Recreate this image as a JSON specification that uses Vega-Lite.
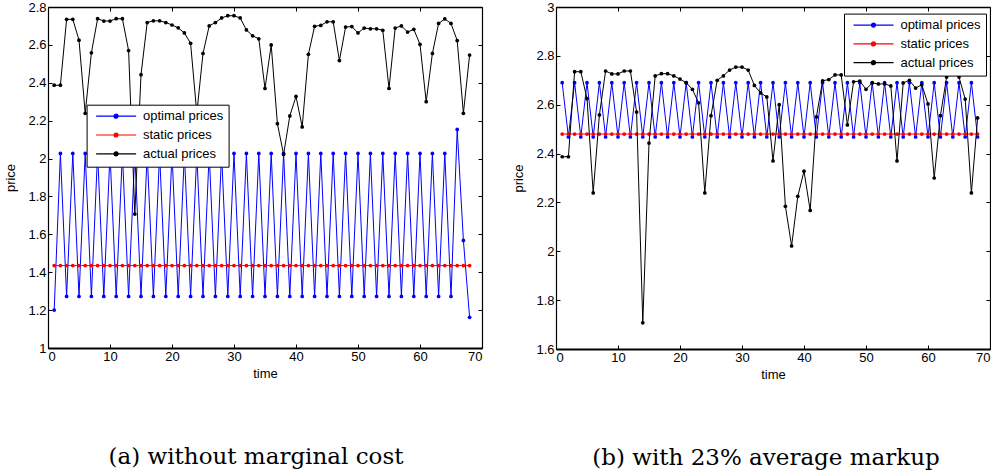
{
  "$schema": "https://vega.github.io/schema/vega-lite/v6.json",
  "padding": {"left": 4, "top": 1, "right": 0, "bottom": 0},
  "config": {"view": {"stroke": null}, "font": "Liberation Sans"},
  "datasets": {
    "A": [
      {"t":1,"optimal":1.2,"static":1.435,"actual":2.387},
      {"t":2,"optimal":2.027,"static":1.435,"actual":2.387},
      {"t":3,"optimal":1.272,"static":1.435,"actual":2.735},
      {"t":4,"optimal":2.027,"static":1.435,"actual":2.735},
      {"t":5,"optimal":1.272,"static":1.435,"actual":2.625},
      {"t":6,"optimal":2.027,"static":1.435,"actual":2.239},
      {"t":7,"optimal":1.272,"static":1.435,"actual":2.558},
      {"t":8,"optimal":2.027,"static":1.435,"actual":2.738},
      {"t":9,"optimal":1.272,"static":1.435,"actual":2.726},
      {"t":10,"optimal":2.027,"static":1.435,"actual":2.726},
      {"t":11,"optimal":1.272,"static":1.435,"actual":2.738},
      {"t":12,"optimal":2.027,"static":1.435,"actual":2.738},
      {"t":13,"optimal":1.272,"static":1.435,"actual":2.570},
      {"t":14,"optimal":2.027,"static":1.435,"actual":1.707},
      {"t":15,"optimal":1.272,"static":1.435,"actual":2.443},
      {"t":16,"optimal":2.027,"static":1.435,"actual":2.718},
      {"t":17,"optimal":1.272,"static":1.435,"actual":2.727},
      {"t":18,"optimal":2.027,"static":1.435,"actual":2.727},
      {"t":19,"optimal":1.272,"static":1.435,"actual":2.718},
      {"t":20,"optimal":2.027,"static":1.435,"actual":2.705},
      {"t":21,"optimal":1.272,"static":1.435,"actual":2.690},
      {"t":22,"optimal":2.027,"static":1.435,"actual":2.663},
      {"t":23,"optimal":1.272,"static":1.435,"actual":2.608},
      {"t":24,"optimal":2.027,"static":1.435,"actual":2.239},
      {"t":25,"optimal":1.272,"static":1.435,"actual":2.555},
      {"t":26,"optimal":2.027,"static":1.435,"actual":2.700},
      {"t":27,"optimal":1.272,"static":1.435,"actual":2.718},
      {"t":28,"optimal":2.027,"static":1.435,"actual":2.742},
      {"t":29,"optimal":1.272,"static":1.435,"actual":2.754},
      {"t":30,"optimal":2.027,"static":1.435,"actual":2.754},
      {"t":31,"optimal":1.272,"static":1.435,"actual":2.742},
      {"t":32,"optimal":2.027,"static":1.435,"actual":2.679},
      {"t":33,"optimal":1.272,"static":1.435,"actual":2.648},
      {"t":34,"optimal":2.027,"static":1.435,"actual":2.632},
      {"t":35,"optimal":1.272,"static":1.435,"actual":2.370},
      {"t":36,"optimal":2.027,"static":1.435,"actual":2.600},
      {"t":37,"optimal":1.272,"static":1.435,"actual":2.184},
      {"t":38,"optimal":2.027,"static":1.435,"actual":2.022},
      {"t":39,"optimal":1.272,"static":1.435,"actual":2.225},
      {"t":40,"optimal":2.027,"static":1.435,"actual":2.328},
      {"t":41,"optimal":1.272,"static":1.435,"actual":2.167},
      {"t":42,"optimal":2.027,"static":1.435,"actual":2.550},
      {"t":43,"optimal":1.272,"static":1.435,"actual":2.698},
      {"t":44,"optimal":2.027,"static":1.435,"actual":2.703},
      {"t":45,"optimal":1.272,"static":1.435,"actual":2.722},
      {"t":46,"optimal":2.027,"static":1.435,"actual":2.722},
      {"t":47,"optimal":1.272,"static":1.435,"actual":2.517},
      {"t":48,"optimal":2.027,"static":1.435,"actual":2.694},
      {"t":49,"optimal":1.272,"static":1.435,"actual":2.697},
      {"t":50,"optimal":2.027,"static":1.435,"actual":2.663},
      {"t":51,"optimal":1.272,"static":1.435,"actual":2.689},
      {"t":52,"optimal":2.027,"static":1.435,"actual":2.685},
      {"t":53,"optimal":1.272,"static":1.435,"actual":2.685},
      {"t":54,"optimal":2.027,"static":1.435,"actual":2.677},
      {"t":55,"optimal":1.272,"static":1.435,"actual":2.370},
      {"t":56,"optimal":2.027,"static":1.435,"actual":2.689},
      {"t":57,"optimal":1.272,"static":1.435,"actual":2.700},
      {"t":58,"optimal":2.027,"static":1.435,"actual":2.668},
      {"t":59,"optimal":1.272,"static":1.435,"actual":2.682},
      {"t":60,"optimal":2.027,"static":1.435,"actual":2.603},
      {"t":61,"optimal":1.272,"static":1.435,"actual":2.300},
      {"t":62,"optimal":2.027,"static":1.435,"actual":2.555},
      {"t":63,"optimal":1.272,"static":1.435,"actual":2.713},
      {"t":64,"optimal":2.027,"static":1.435,"actual":2.737},
      {"t":65,"optimal":1.272,"static":1.435,"actual":2.713},
      {"t":66,"optimal":2.154,"static":1.435,"actual":2.623},
      {"t":67,"optimal":1.568,"static":1.435,"actual":2.239},
      {"t":68,"optimal":1.162,"static":1.435,"actual":2.546}
    ],
    "B": [
      {"t":1,"optimal":2.69,"static":2.48,"actual":2.387},
      {"t":2,"optimal":2.468,"static":2.48,"actual":2.387},
      {"t":3,"optimal":2.69,"static":2.48,"actual":2.735},
      {"t":4,"optimal":2.468,"static":2.48,"actual":2.735},
      {"t":5,"optimal":2.69,"static":2.48,"actual":2.625},
      {"t":6,"optimal":2.468,"static":2.48,"actual":2.239},
      {"t":7,"optimal":2.69,"static":2.48,"actual":2.558},
      {"t":8,"optimal":2.468,"static":2.48,"actual":2.738},
      {"t":9,"optimal":2.69,"static":2.48,"actual":2.726},
      {"t":10,"optimal":2.468,"static":2.48,"actual":2.726},
      {"t":11,"optimal":2.69,"static":2.48,"actual":2.738},
      {"t":12,"optimal":2.468,"static":2.48,"actual":2.738},
      {"t":13,"optimal":2.69,"static":2.48,"actual":2.570},
      {"t":14,"optimal":2.468,"static":2.48,"actual":1.707},
      {"t":15,"optimal":2.69,"static":2.48,"actual":2.443},
      {"t":16,"optimal":2.468,"static":2.48,"actual":2.718},
      {"t":17,"optimal":2.69,"static":2.48,"actual":2.727},
      {"t":18,"optimal":2.468,"static":2.48,"actual":2.727},
      {"t":19,"optimal":2.69,"static":2.48,"actual":2.718},
      {"t":20,"optimal":2.468,"static":2.48,"actual":2.705},
      {"t":21,"optimal":2.69,"static":2.48,"actual":2.690},
      {"t":22,"optimal":2.468,"static":2.48,"actual":2.663},
      {"t":23,"optimal":2.69,"static":2.48,"actual":2.608},
      {"t":24,"optimal":2.468,"static":2.48,"actual":2.239},
      {"t":25,"optimal":2.69,"static":2.48,"actual":2.555},
      {"t":26,"optimal":2.468,"static":2.48,"actual":2.700},
      {"t":27,"optimal":2.69,"static":2.48,"actual":2.718},
      {"t":28,"optimal":2.468,"static":2.48,"actual":2.742},
      {"t":29,"optimal":2.69,"static":2.48,"actual":2.754},
      {"t":30,"optimal":2.468,"static":2.48,"actual":2.754},
      {"t":31,"optimal":2.69,"static":2.48,"actual":2.742},
      {"t":32,"optimal":2.468,"static":2.48,"actual":2.679},
      {"t":33,"optimal":2.69,"static":2.48,"actual":2.648},
      {"t":34,"optimal":2.468,"static":2.48,"actual":2.632},
      {"t":35,"optimal":2.69,"static":2.48,"actual":2.370},
      {"t":36,"optimal":2.468,"static":2.48,"actual":2.600},
      {"t":37,"optimal":2.69,"static":2.48,"actual":2.184},
      {"t":38,"optimal":2.468,"static":2.48,"actual":2.022},
      {"t":39,"optimal":2.69,"static":2.48,"actual":2.225},
      {"t":40,"optimal":2.468,"static":2.48,"actual":2.328},
      {"t":41,"optimal":2.69,"static":2.48,"actual":2.167},
      {"t":42,"optimal":2.468,"static":2.48,"actual":2.550},
      {"t":43,"optimal":2.69,"static":2.48,"actual":2.698},
      {"t":44,"optimal":2.468,"static":2.48,"actual":2.703},
      {"t":45,"optimal":2.69,"static":2.48,"actual":2.722},
      {"t":46,"optimal":2.468,"static":2.48,"actual":2.722},
      {"t":47,"optimal":2.69,"static":2.48,"actual":2.517},
      {"t":48,"optimal":2.468,"static":2.48,"actual":2.694},
      {"t":49,"optimal":2.69,"static":2.48,"actual":2.697},
      {"t":50,"optimal":2.468,"static":2.48,"actual":2.663},
      {"t":51,"optimal":2.69,"static":2.48,"actual":2.689},
      {"t":52,"optimal":2.468,"static":2.48,"actual":2.685},
      {"t":53,"optimal":2.69,"static":2.48,"actual":2.685},
      {"t":54,"optimal":2.468,"static":2.48,"actual":2.677},
      {"t":55,"optimal":2.69,"static":2.48,"actual":2.370},
      {"t":56,"optimal":2.468,"static":2.48,"actual":2.689},
      {"t":57,"optimal":2.69,"static":2.48,"actual":2.700},
      {"t":58,"optimal":2.468,"static":2.48,"actual":2.668},
      {"t":59,"optimal":2.69,"static":2.48,"actual":2.682},
      {"t":60,"optimal":2.468,"static":2.48,"actual":2.603},
      {"t":61,"optimal":2.69,"static":2.48,"actual":2.300},
      {"t":62,"optimal":2.468,"static":2.48,"actual":2.555},
      {"t":63,"optimal":2.69,"static":2.48,"actual":2.713},
      {"t":64,"optimal":2.468,"static":2.48,"actual":2.737},
      {"t":65,"optimal":2.69,"static":2.48,"actual":2.713},
      {"t":66,"optimal":2.468,"static":2.48,"actual":2.623},
      {"t":67,"optimal":2.69,"static":2.48,"actual":2.239},
      {"t":68,"optimal":2.468,"static":2.48,"actual":2.546}
    ]
  },
  "hconcat": [
    {
      "width": 434,
      "height": 341,
      "data": {"name": "A"},
      "title": {"text": "(a) without marginal cost", "orient": "bottom", "frame": "group", "anchor": "middle", "dx": -9, "offset": 84, "baseline": "alphabetic", "font": "DejaVu Serif", "fontSize": 23, "fontWeight": "normal", "color": "black"},
      "resolve": {"axis": {"x": "independent", "y": "independent"}},
      "layer": [
        {
          "transform": [{"fold": ["optimal", "static"], "as": ["s", "p"]}],
          "mark": {"type": "line", "strokeWidth": 1, "point": {"filled": true, "size": 14, "opacity": 1}},
          "encoding": {
            "x": {"field": "t", "type": "quantitative", "scale": {"domain": [0, 70], "nice": false, "zero": false},
              "axis": {"orient": "bottom", "values": [0,10,20,30,40,50,60,70], "title": "time", "grid": false, "domainColor": "black", "domainWidth": 2, "tickColor": "black", "tickSize": -4, "labelPadding": 6, "labelFont": "Liberation Sans", "labelFontSize": 13, "labelColor": "black", "titleFont": "Liberation Sans", "titleFontSize": 13, "titleFontWeight": "normal", "titleColor": "black", "titlePadding": 4}},
            "y": {"field": "p", "type": "quantitative", "scale": {"domain": [1, 2.8], "nice": false, "zero": false},
              "axis": {"orient": "left", "values": [1,1.2,1.4,1.6,1.8,2,2.2,2.4,2.6,2.8], "format": "~g", "title": "price", "grid": false, "domainColor": "black", "domainWidth": 1.2, "tickColor": "black", "tickSize": -4, "labelPadding": 6, "labelFont": "Liberation Sans", "labelFontSize": 13, "labelColor": "black", "titleFont": "Liberation Sans", "titleFontSize": 13, "titleFontWeight": "normal", "titleColor": "black", "titlePadding": 10}},
            "color": {"field": "s", "type": "nominal",
              "scale": {"domain": ["optimal", "static", "actual"], "range": ["#0000ff", "#ff0000", "#000000"]},
              "legend": {"orient": "none", "legendX": 38.6, "legendY": 97.7, "title": null, "labelExpr": "datum.label + ' prices'",
                "symbolType": "M -0.4 0 H 7.6 M 3.2 0 A 0.4 0.4 0 1 1 4 0 A 0.4 0.4 0 1 1 3.2 0 Z", "symbolSize": 100, "symbolStrokeWidth": 1.2,
                "labelFont": "Liberation Sans", "labelFontSize": 13, "labelColor": "black", "labelOffset": 38.4, "rowPadding": 4.8, "padding": 5,
                "strokeColor": "black", "fillColor": "white",
                "encode": {"symbols": {"update": {"fill": {"signal": "datum.value === 'optimal' ? '#0000ff' : datum.value === 'static' ? '#ff0000' : '#000000'"}, "stroke": {"signal": "datum.value === 'optimal' ? '#0000ff' : datum.value === 'static' ? '#ff0000' : '#000000'"}, "opacity": {"value": 1}, "strokeWidth": {"value": 1.2}}}}}}
          }
        },
        {
          "transform": [{"fold": ["actual"], "as": ["s", "p"]}],
          "mark": {"type": "line", "strokeWidth": 1, "point": {"filled": true, "size": 14, "opacity": 1}},
          "encoding": {
            "x": {"field": "t", "type": "quantitative",
              "axis": {"orient": "top", "values": [0,10,20,30,40,50,60,70], "labels": false, "title": null, "grid": false, "domainColor": "black", "domainWidth": 1.5, "tickColor": "black", "tickSize": -4}},
            "y": {"field": "p", "type": "quantitative",
              "axis": {"orient": "right", "values": [1,1.2,1.4,1.6,1.8,2,2.2,2.4,2.6,2.8], "labels": false, "title": null, "grid": false, "domainColor": "black", "domainWidth": 1.2, "tickColor": "black", "tickSize": -4}},
            "color": {"field": "s", "type": "nominal"}
          }
        }
      ]
    },
    {
      "width": 434,
      "height": 342,
      "data": {"name": "B"},
      "title": {"text": "(b) with 23% average markup", "orient": "bottom", "frame": "group", "anchor": "middle", "dx": -7, "offset": 84, "baseline": "alphabetic", "font": "DejaVu Serif", "fontSize": 23, "fontWeight": "normal", "color": "black"},
      "resolve": {"axis": {"x": "independent", "y": "independent"}},
      "layer": [
        {
          "transform": [{"fold": ["optimal", "static"], "as": ["s", "p"]}],
          "mark": {"type": "line", "strokeWidth": 1, "point": {"filled": true, "size": 14, "opacity": 1}},
          "encoding": {
            "x": {"field": "t", "type": "quantitative", "scale": {"domain": [0, 70], "nice": false, "zero": false},
              "axis": {"orient": "bottom", "values": [0,10,20,30,40,50,60,70], "title": "time", "grid": false, "domainColor": "black", "domainWidth": 2, "tickColor": "black", "tickSize": -4, "labelPadding": 6, "labelFont": "Liberation Sans", "labelFontSize": 13, "labelColor": "black", "titleFont": "Liberation Sans", "titleFontSize": 13, "titleFontWeight": "normal", "titleColor": "black", "titlePadding": 4}},
            "y": {"field": "p", "type": "quantitative", "scale": {"domain": [1.6, 3], "nice": false, "zero": false},
              "axis": {"orient": "left", "values": [1.6,1.8,2,2.2,2.4,2.6,2.8,3], "format": "~g", "title": "price", "grid": false, "domainColor": "black", "domainWidth": 1.2, "tickColor": "black", "tickSize": -4, "labelPadding": 6, "labelFont": "Liberation Sans", "labelFontSize": 13, "labelColor": "black", "titleFont": "Liberation Sans", "titleFontSize": 13, "titleFontWeight": "normal", "titleColor": "black", "titlePadding": 10}},
            "color": {"field": "s", "type": "nominal",
              "scale": {"domain": ["optimal", "static", "actual"], "range": ["#0000ff", "#ff0000", "#000000"]},
              "legend": {"orient": "none", "legendX": 288, "legendY": 6.6, "title": null, "labelExpr": "datum.label + ' prices'",
                "symbolType": "M -0.4 0 H 7.6 M 3.2 0 A 0.4 0.4 0 1 1 4 0 A 0.4 0.4 0 1 1 3.2 0 Z", "symbolSize": 100, "symbolStrokeWidth": 1.2,
                "labelFont": "Liberation Sans", "labelFontSize": 13, "labelColor": "black", "labelOffset": 38.4, "rowPadding": 4.8, "padding": 5,
                "strokeColor": "black", "fillColor": "white",
                "encode": {"symbols": {"update": {"fill": {"signal": "datum.value === 'optimal' ? '#0000ff' : datum.value === 'static' ? '#ff0000' : '#000000'"}, "stroke": {"signal": "datum.value === 'optimal' ? '#0000ff' : datum.value === 'static' ? '#ff0000' : '#000000'"}, "opacity": {"value": 1}, "strokeWidth": {"value": 1.2}}}}}}
          }
        },
        {
          "transform": [{"fold": ["actual"], "as": ["s", "p"]}],
          "mark": {"type": "line", "strokeWidth": 1, "point": {"filled": true, "size": 14, "opacity": 1}},
          "encoding": {
            "x": {"field": "t", "type": "quantitative",
              "axis": {"orient": "top", "values": [0,10,20,30,40,50,60,70], "labels": false, "title": null, "grid": false, "domainColor": "black", "domainWidth": 1.5, "tickColor": "black", "tickSize": -4}},
            "y": {"field": "p", "type": "quantitative",
              "axis": {"orient": "right", "values": [1.6,1.8,2,2.2,2.4,2.6,2.8,3], "labels": false, "title": null, "grid": false, "domainColor": "black", "domainWidth": 1.2, "tickColor": "black", "tickSize": -4}},
            "color": {"field": "s", "type": "nominal"}
          }
        }
      ]
    }
  ],
  "spacing": 74,
  "bounds": "flush",
  "resolve": {"legend": {"color": "independent"}}
}
